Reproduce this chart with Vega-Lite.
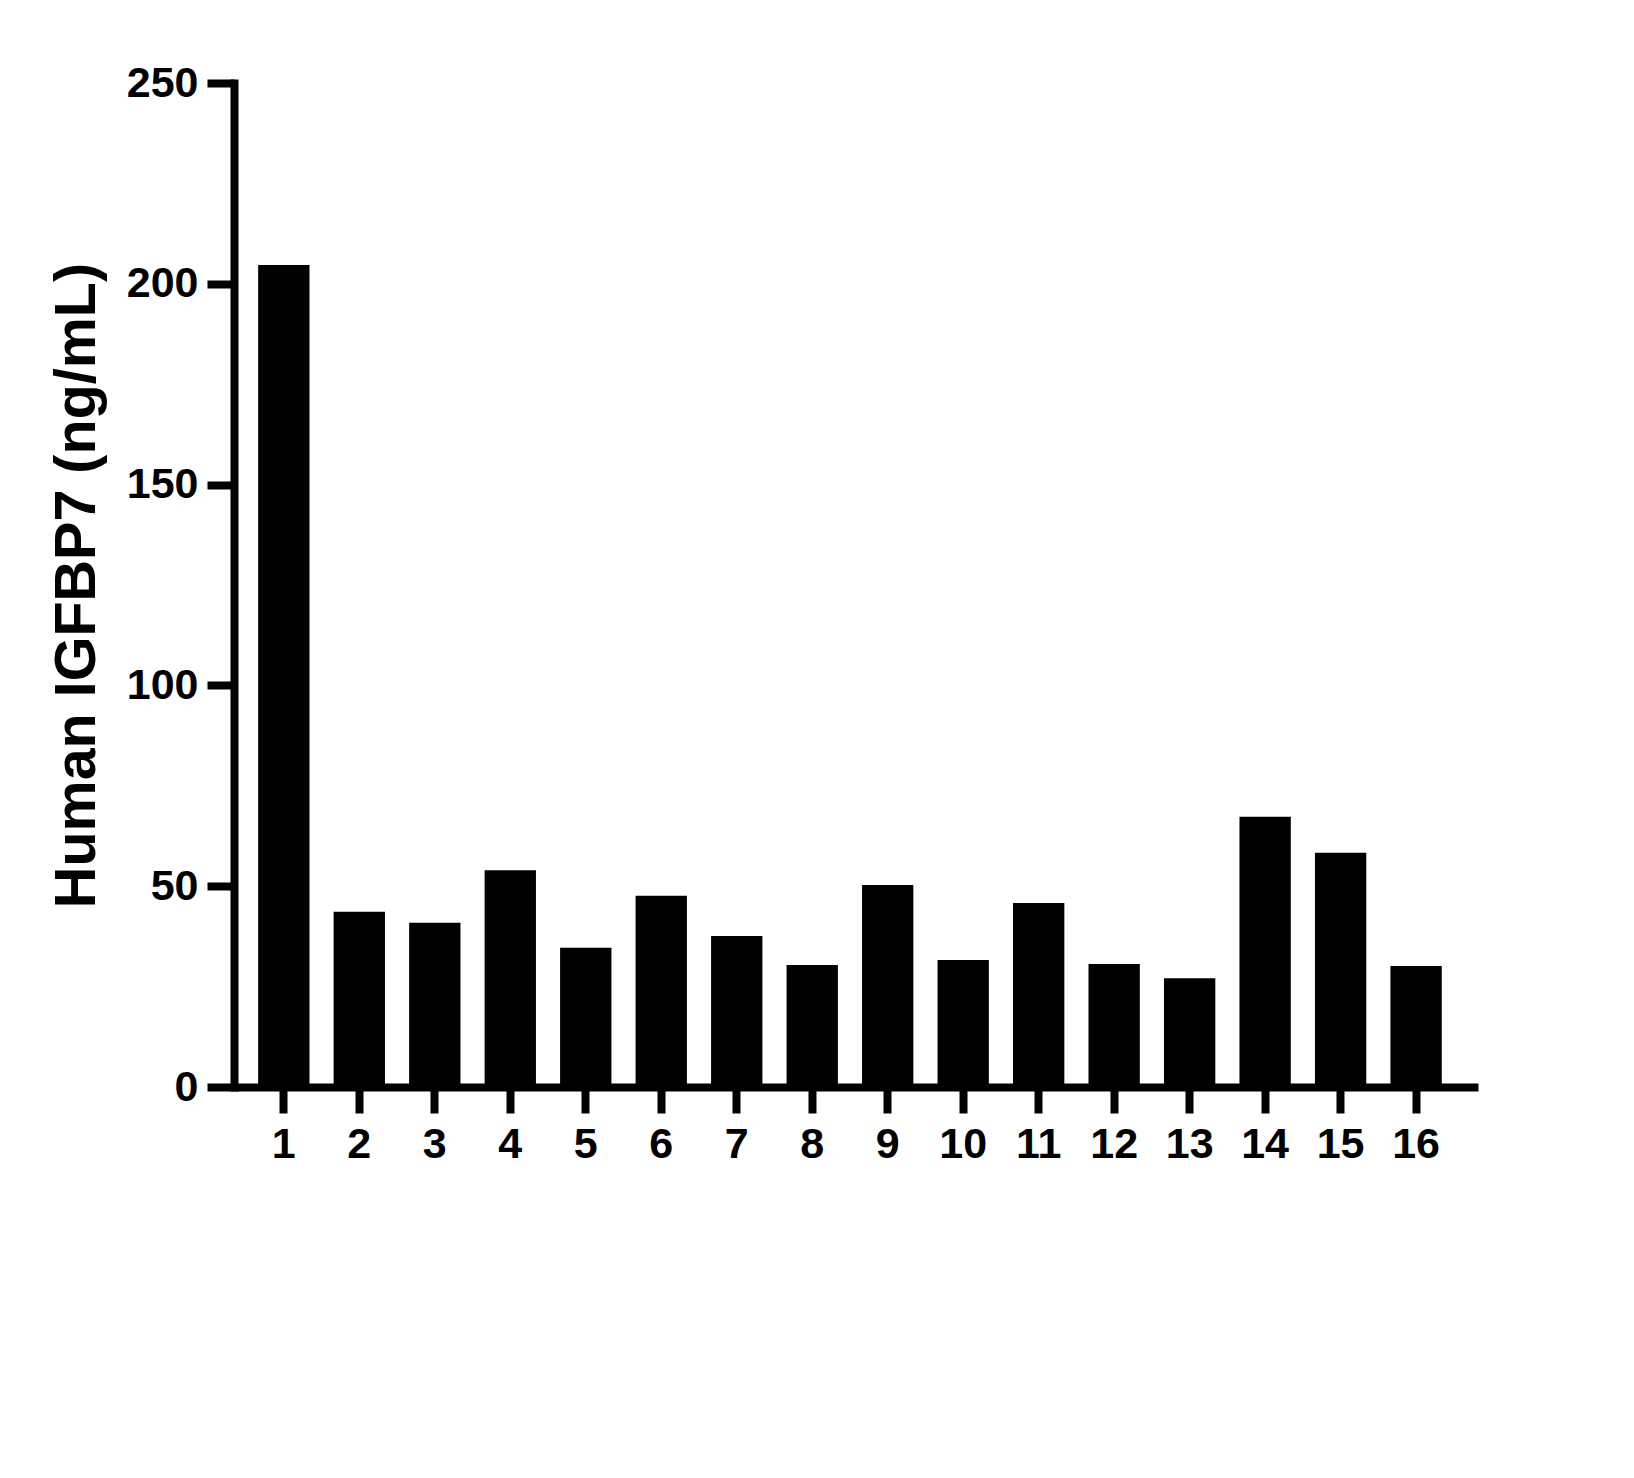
{
  "$schema": "https://vega.github.io/schema/vega-lite/v6.json",
  "autosize": {"type": "none"},
  "padding": {"left": 234, "top": 83, "right": 156, "bottom": 391},
  "width": 1244,
  "height": 1004,
  "background": "white",
  "config": {
    "view": {"stroke": null},
    "font": "Arial, Liberation Sans, sans-serif",
    "axis": {"domainWidth": 8, "tickWidth": 8, "domainColor": "black", "tickColor": "black"}
  },
  "data": {
    "values": [
      {"sample": "1", "value": 204.7},
      {"sample": "2", "value": 43.65},
      {"sample": "3", "value": 40.9},
      {"sample": "4", "value": 54.0},
      {"sample": "5", "value": 34.7},
      {"sample": "6", "value": 47.6},
      {"sample": "7", "value": 37.6},
      {"sample": "8", "value": 30.4},
      {"sample": "9", "value": 50.3},
      {"sample": "10", "value": 31.6},
      {"sample": "11", "value": 45.8},
      {"sample": "12", "value": 30.6},
      {"sample": "13", "value": 27.1},
      {"sample": "14", "value": 67.3},
      {"sample": "15", "value": 58.3},
      {"sample": "16", "value": 30.1}
    ]
  },
  "mark": {"type": "bar", "color": "black"},
  "encoding": {
    "x": {
      "field": "sample",
      "type": "ordinal",
      "sort": null,
      "scale": {"paddingInner": 0.32, "paddingOuter": 0.4, "align": 0.4},
      "axis": {
        "title": null,
        "labelAngle": 0,
        "labelFont": "Arial, Liberation Sans, sans-serif",
        "labelFontSize": 43,
        "labelFontWeight": "bold",
        "labelColor": "black",
        "labelPadding": 10,
        "tickSize": 26,
        "tickWidth": 8,
        "tickColor": "black",
        "domainWidth": 8,
        "domainColor": "black",
        "domainCap": "butt"
      }
    },
    "y": {
      "field": "value",
      "type": "quantitative",
      "scale": {"domain": [0, 250], "nice": false},
      "axis": {
        "title": "Human IGFBP7 (ng/mL)",
        "titleFont": "Arial, Liberation Sans, sans-serif",
        "titleFontSize": 57.5,
        "titleFontWeight": "bold",
        "titleColor": "black",
        "titlePadding": 20,
        "values": [0, 50, 100, 150, 200, 250],
        "grid": false,
        "labelFont": "Arial, Liberation Sans, sans-serif",
        "labelFontSize": 43,
        "labelFontWeight": "bold",
        "labelColor": "black",
        "labelPadding": 9,
        "tickSize": 27,
        "tickWidth": 8,
        "tickColor": "black",
        "domainWidth": 8,
        "domainColor": "black",
        "domainCap": "square"
      }
    }
  }
}
